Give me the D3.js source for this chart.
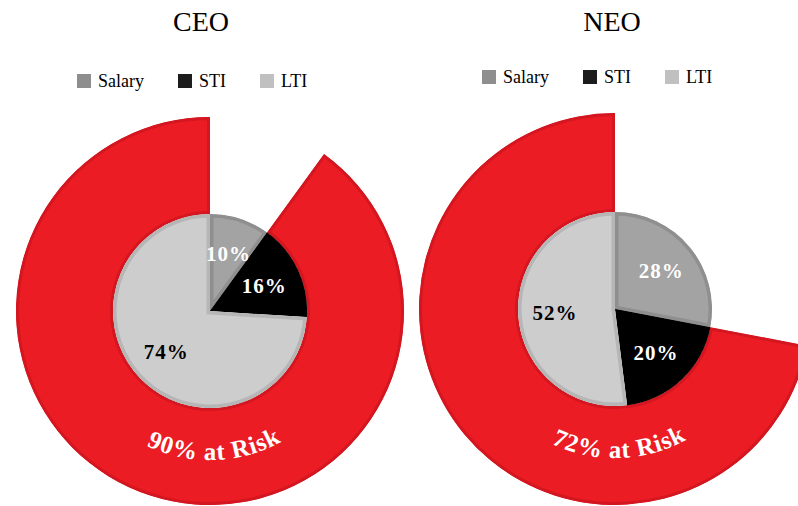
<!DOCTYPE html>
<html>
    <head>
        <meta charset="utf-8">
        <style>
            body { margin: 0; background: #fff; }
            text { font-family: "Liberation Serif", "Times New Roman", serif; }
        </style>
    </head>
    <body>
        <svg width="798" height="506"></svg>
        <script src="https://d3js.org/d3.v7.min.js"></script>
        <script>
            // data
            const categories = ["Salary", "STI", "LTI"];
            const roles = ["CEO", "NEO"];
            const ceoValues = [10, 16, 74];
            const neoValues = [28, 20, 52];
            const atRisk = [90, 72];

            const fills = ["#a3a3a3", "#000000", "#cdcdcd"];
            const borders = ["#8f8f8f", "#000000", "#b6b6b6"];
            const legendFills = ["#8e8e8e", "#1c1c1c", "#c0c0c0"];
            const labelColors = ["#fff", "#fff", "#000"];

            let svg = d3.select("svg");

            let panels = [
                {name: roles[0], values: ceoValues, risk: atRisk[0], cx: 210, cy: 311, outer: 194},
                {name: roles[1], values: neoValues, risk: atRisk[1], cx: 615, cy: 309, outer: 196}
            ];

            let pieR = 97;
            let pie = d3.pie().sort(null).value(d => d);
            let sliceArc = d3.arc().innerRadius(0).outerRadius(pieR);
            let labelArc = d3.arc().innerRadius(60).outerRadius(60);

            panels.forEach(function(p, pi) {
                let g = svg.append("g").attr("transform", `translate(${p.cx},${p.cy})`);

                // title
                svg.append("text")
                    .attr("x", p.cx - 9 + pi * 6)
                    .attr("y", 31)
                    .attr("text-anchor", "middle")
                    .attr("font-size", 28)
                    .attr("fill", "#000")
                    .text(p.name);

                // legend
                let lx = p.cx - 133;
                let ly = p.cy - p.outer - 43;
                categories.forEach(function(c, i) {
                    svg.append("rect")
                        .attr("x", lx).attr("y", ly)
                        .attr("width", 14).attr("height", 14)
                        .attr("fill", legendFills[i]);
                    let t = svg.append("text")
                        .attr("x", lx + 21)
                        .attr("y", ly + 13)
                        .attr("font-size", 18)
                        .attr("fill", "#000")
                        .text(c);
                    lx += 21 + t.node().getComputedTextLength() + 34;
                });

                // red "at risk" ring
                let gap = (1 - p.risk / 100) * 2 * Math.PI;
                let ringArc = d3.arc().innerRadius(pieR).outerRadius(p.outer);
                let ringId = "ringclip" + pi;
                let ringD = ringArc({startAngle: gap, endAngle: 2 * Math.PI});
                svg.append("clipPath").attr("id", ringId)
                    .append("path").attr("d", ringD);
                g.append("path")
                    .attr("d", ringD)
                    .attr("fill", "#ec1c24")
                    .attr("stroke", "#d3161f")
                    .attr("stroke-width", 6)
                    .attr("clip-path", `url(#${ringId})`);

                // curved label along the bottom of the ring
                let tr = 149;
                let pathId = "riskpath" + pi;
                g.append("path")
                    .attr("id", pathId)
                    .attr("d", `M${-tr},0 A${tr},${tr} 0 0 0 ${tr},0`)
                    .attr("fill", "none");
                g.append("text")
                    .attr("font-size", 25)
                    .attr("font-weight", "bold")
                    .attr("letter-spacing", 0.8)
                    .attr("fill", "#fff")
                    .append("textPath")
                    .attr("href", "#" + pathId)
                    .attr("startOffset", "51%")
                    .attr("text-anchor", "middle")
                    .text(p.risk + "% at Risk");

                // pie of pay mix
                let arcs = pie(p.values);
                arcs.forEach(function(a, i) {
                    let id = "slice" + pi + "_" + i;
                    let d = sliceArc(a);
                    svg.append("clipPath").attr("id", id)
                        .append("path").attr("d", d);
                    g.append("path")
                        .attr("d", d)
                        .attr("fill", fills[i])
                        .attr("stroke", borders[i])
                        .attr("stroke-width", 7)
                        .attr("clip-path", `url(#${id})`);
                });

                g.selectAll("text.lbl")
                    .data(arcs)
                    .enter()
                    .append("text")
                    .attr("class", "lbl")
                    .attr("transform", d => `translate(${labelArc.centroid(d)})`)
                    .attr("text-anchor", "middle")
                    .attr("dy", "0.35em")
                    .attr("font-size", 21)
                    .attr("font-weight", "bold")
                    .attr("letter-spacing", 1)
                    .attr("fill", (d, i) => labelColors[i])
                    .text(d => d.data + "%");
            });
        </script>
    </body>
</html>
